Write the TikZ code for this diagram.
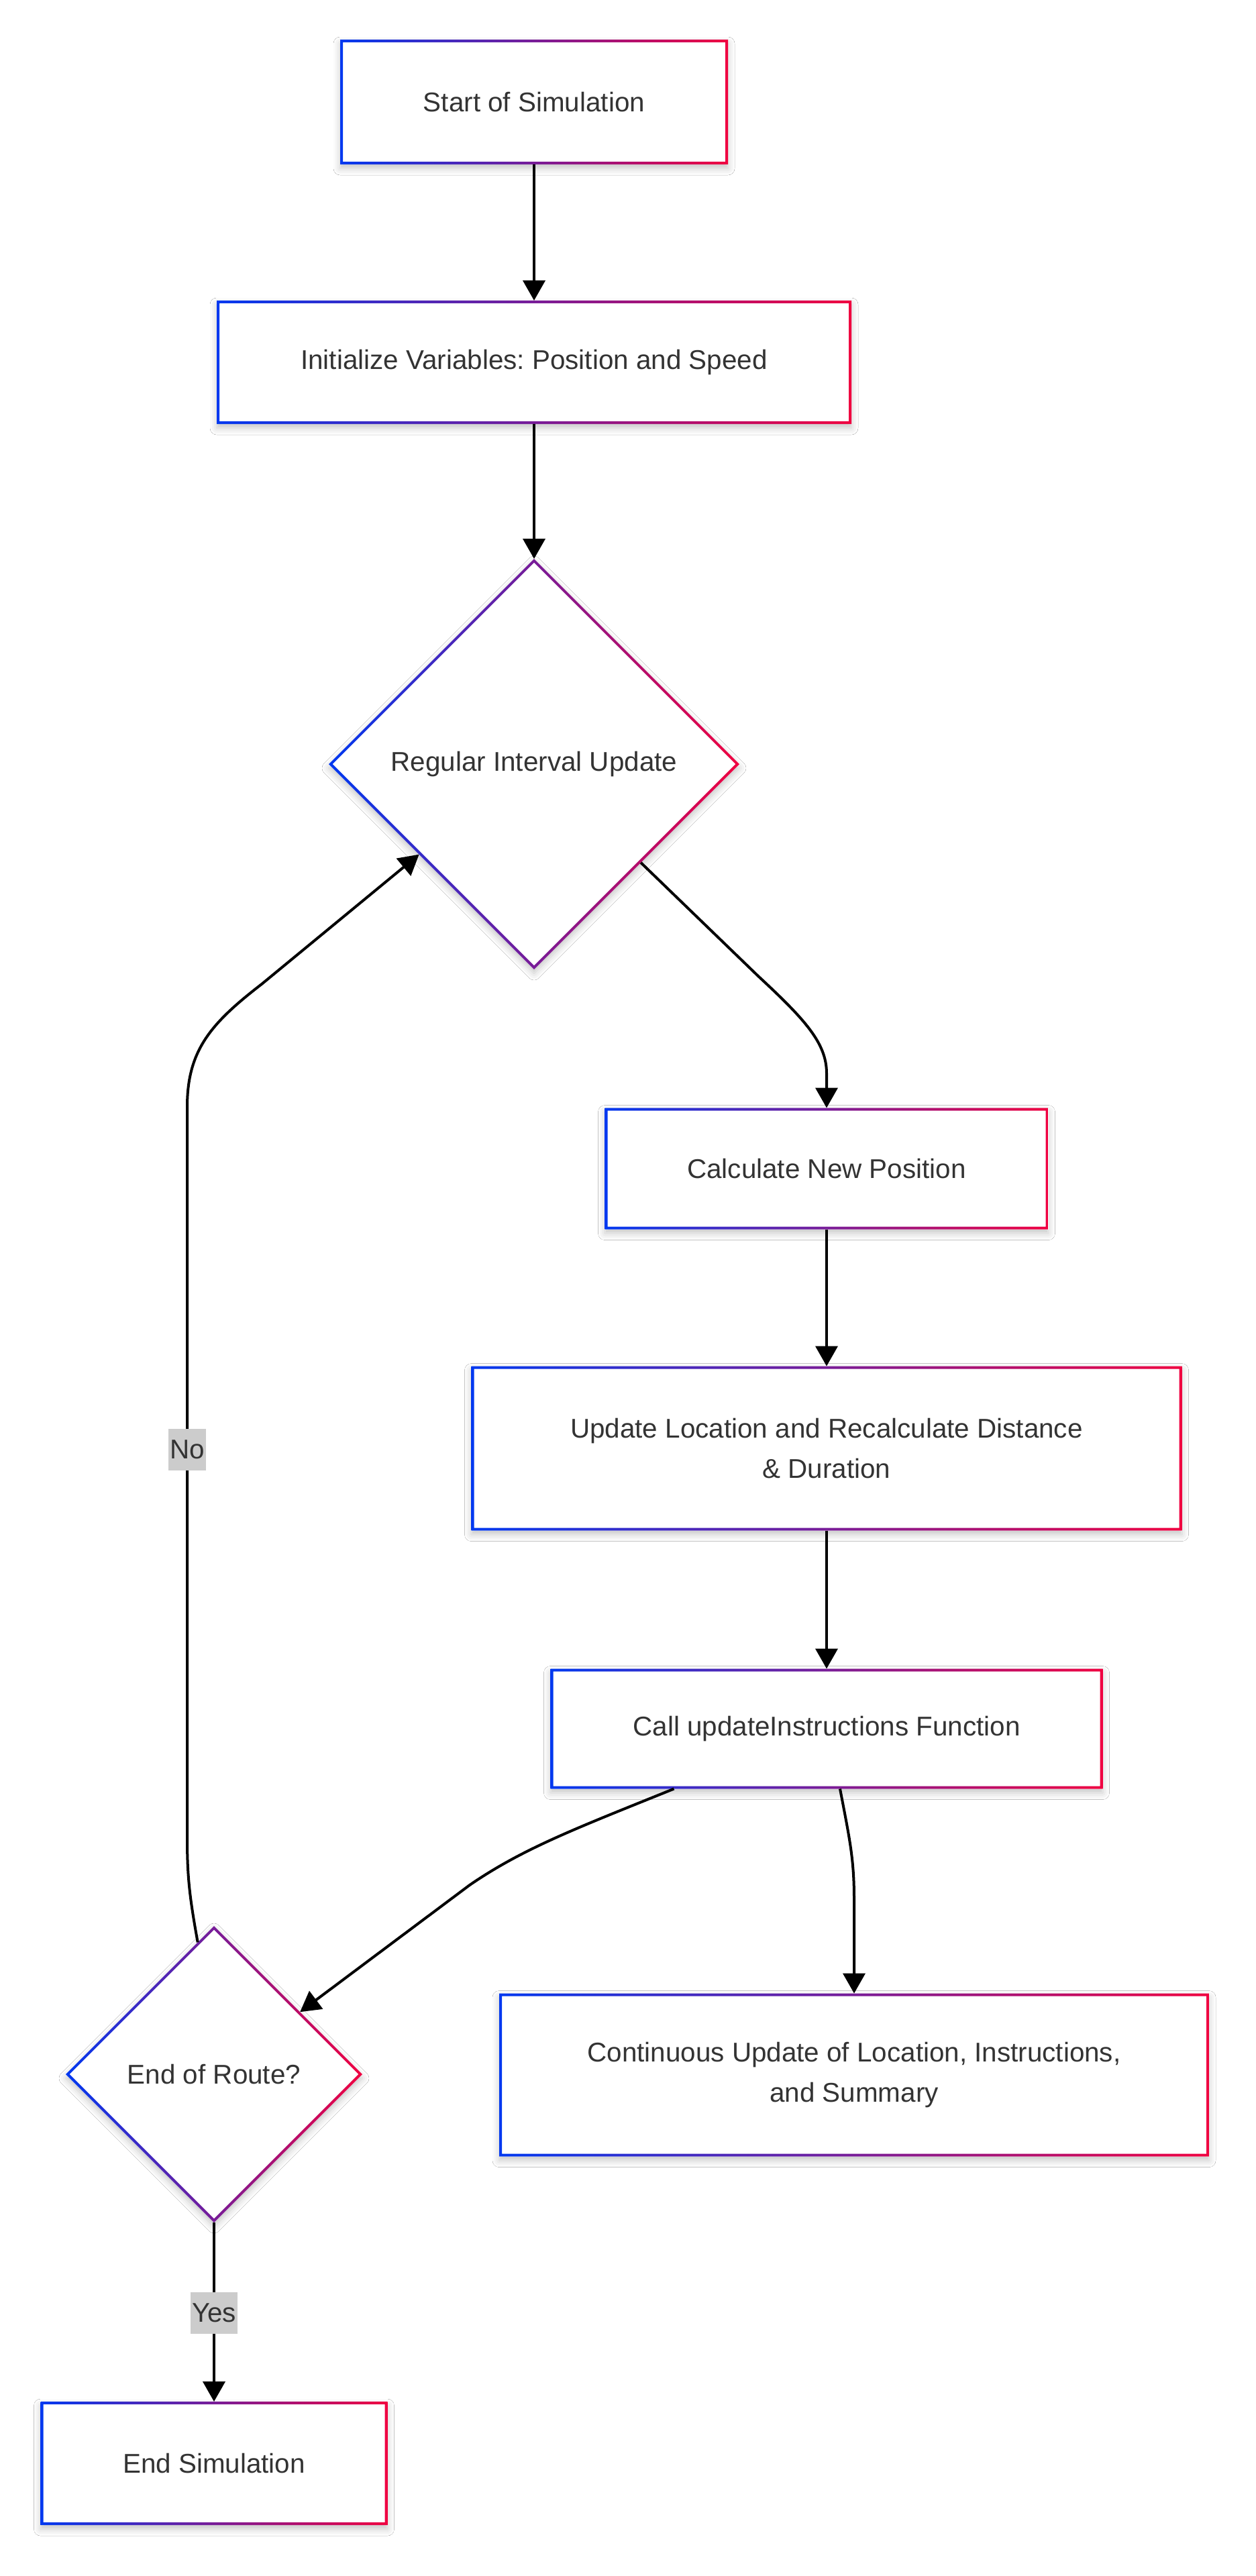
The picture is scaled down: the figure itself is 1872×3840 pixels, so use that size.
\documentclass[tikz,border=0pt]{standalone}
\usepackage{fontspec}
\setmainfont{Liberation Sans}
\usetikzlibrary{shapes.geometric,arrows.meta,calc,shadows.blur}

\definecolor{gblue}{RGB}{0,56,240}
\definecolor{gred}{RGB}{240,0,64}
\definecolor{ink}{RGB}{51,51,51}
\definecolor{lblbg}{RGB}{204,204,204}

\tikzset{
  nodefont/.style={font=\fontsize{20.2}{30}\selectfont\frenchspacing},
  softshadow/.style={blur shadow={shadow xshift=0pt,shadow yshift=-3pt,
      shadow blur radius=5pt,shadow opacity=22}},
  procbox/.style={rectangle, fill=white, softshadow, text=ink, nodefont,
    align=center, inner sep=0pt, outer sep=0pt,
    path picture={\shade[left color=gblue,right color=gred,even odd rule]
      (path picture bounding box.south west) rectangle (path picture bounding box.north east)
      ([shift={(2pt,-2pt)}]path picture bounding box.north west)
      rectangle ([shift={(-2pt,2pt)}]path picture bounding box.south east);}},
  decision/.style={diamond, aspect=1, fill=white, softshadow, text=ink, nodefont,
    align=center, inner sep=0pt, outer sep=0pt,
    path picture={\shade[left color=gblue,right color=gred,even odd rule]
      (path picture bounding box.north) -- (path picture bounding box.east)
      -- (path picture bounding box.south) -- (path picture bounding box.west) -- cycle
      ([yshift=-2.83pt]path picture bounding box.north)
      -- ([xshift=-2.83pt]path picture bounding box.east)
      -- ([yshift=2.83pt]path picture bounding box.south)
      -- ([xshift=2.83pt]path picture bounding box.west) -- cycle;}},
  flow/.style={draw=black, line width=2pt, -{Triangle[length=15pt,width=16.5pt]}},
  edgelabel/.style={fill=lblbg, text=ink, nodefont, inner xsep=1pt,
    inner ysep=0pt, minimum height=31pt}
}

\begin{document}
\begin{tikzpicture}[x=0.5pt,y=-0.5pt]
  \fill[white] (0,0) rectangle (1872,3840);
  \useasboundingbox (0,0) rectangle (1872,3840);

  % process steps and decisions
  \node[procbox, minimum width=289pt, minimum height=93pt] (start) at (796,152) {Start of Simulation};
  \node[procbox, minimum width=473pt, minimum height=92pt] (init) at (796,540) {Initialize Variables: Position and Speed};
  \node[decision, minimum width=306pt, minimum height=306pt] (tick) at (796,1139) {Regular Interval Update};
  \node[procbox, minimum width=330.5pt, minimum height=90.5pt] (calc) at (1232,1742) {Calculate New Position};
  \node[procbox, minimum width=529.5pt, minimum height=122.5pt] (upd) at (1232,2159) {Update Location and Recalculate Distance\\\& Duration};
  \node[procbox, minimum width=411.5pt, minimum height=89.5pt] (call) at (1232,2577) {Call updateInstructions Function};
  \node[procbox, minimum width=529pt, minimum height=121.5pt] (cont) at (1273,3093) {Continuous Update of Location, Instructions,\\and Summary};
  \node[decision, minimum width=221pt, minimum height=221pt] (eor) at (319,3092) {End of Route?};
  \node[procbox, minimum width=258.5pt, minimum height=92pt] (fin) at (319,3672) {End Simulation};

  % connectors
  \draw[flow] (start.south) -- (init.north);
  \draw[flow] (init.south) -- (tick.north);
  \draw[flow] ($(tick.east)!0.48!(tick.south)$) -- (1130,1455)
      .. controls (1200,1520) and (1232,1555) .. (1232,1600) -- (calc.north);
  \draw[flow] (calc.south) -- (upd.north);
  \draw[flow] (upd.south) -- (call.north);
  \draw[flow] ([xshift=92pt]call.south west) .. controls (860,2725) and (780,2755)
      .. (700,2810) -- ($(eor.north)!0.58!(eor.east)$);
  \draw[flow] ([xshift=10pt]call.south) .. controls (1266,2740) and (1273,2770)
      .. (1273,2830) -- (cont.north);
  \draw[flow] ($(eor.north)!0.11!(eor.west)$) .. controls (283,2830) and (279,2800)
      .. (279,2740) -- (279,1650) .. controls (279,1565) and (315,1525)
      .. (390,1467) -- ($(tick.west)!0.44!(tick.south)$);
  \draw[flow] (eor.south) -- (fin.north);

  % branch labels
  \node[edgelabel] (nolbl) at (279,2161) {No};
  \node[edgelabel] (yeslbl) at (319,3448) {Yes};
\end{tikzpicture}
\end{document}
